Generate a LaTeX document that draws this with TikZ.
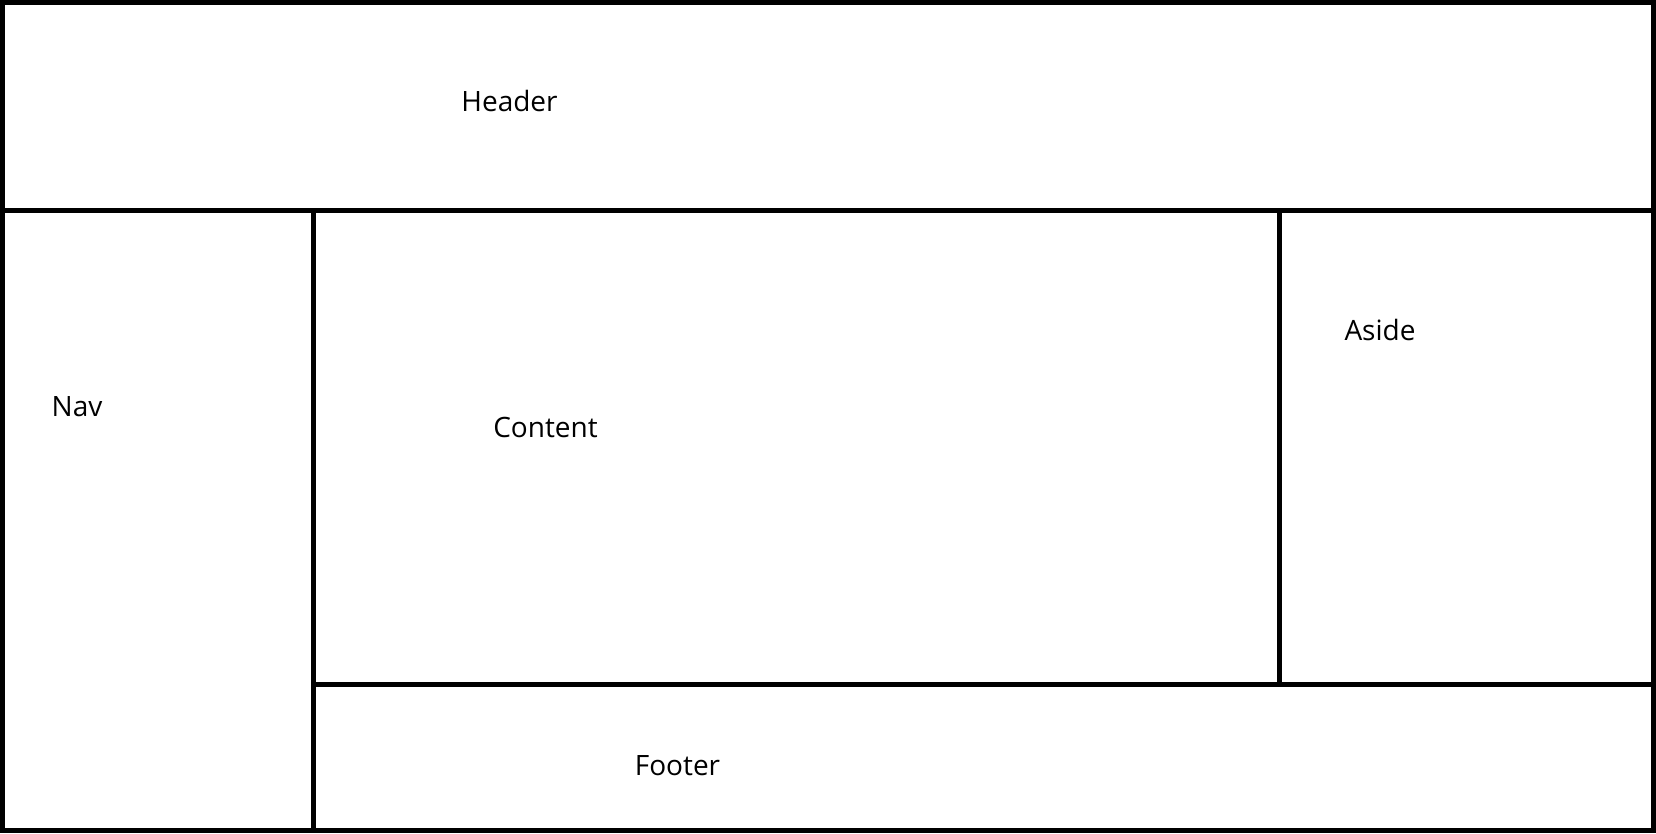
\documentclass[tikz,border=0pt]{standalone}
\usepackage{fontspec}
\setmainfont{Open Sans}
\begin{document}
\begin{tikzpicture}[x=1pt,y=-1pt,
  frame/.style={line width=5pt, draw=black},
  lbl/.style={anchor=base, inner sep=0pt, font=\fontsize{28}{33}\selectfont}]
\useasboundingbox (0,0) rectangle (1656,833);
\fill[white] (0,0) rectangle (1656,833);
% outer border
\draw[frame] (2.5,2.5) rectangle (1653.5,830.5);
% named corner coordinates
\coordinate (hl) at (0,210.5);
\coordinate (hr) at (1656,210.5);
\coordinate (nt) at (313.5,210.5);
\coordinate (nb) at (313.5,833);
\coordinate (at) at (1279.5,210.5);
\coordinate (ab) at (1279.5,684.5);
\coordinate (fl) at (313.5,684.5);
\coordinate (fr) at (1656,684.5);
\draw[frame] (hl) -- (hr);
\draw[frame] (nt) -- (nb);
\draw[frame] (at) -- (ab);
\draw[frame] (fl) -- (fr);
% labels
\node[lbl] (header) at (509.5,111) {Header};
\node[lbl] (nav) at (77,416) {Nav};
\node[lbl] (content) at (545.5,437) {Content};
\node[lbl] (aside) at (1380,340) {Aside};
\node[lbl] (footer) at (677.5,775) {Footer};
\end{tikzpicture}
\end{document}
